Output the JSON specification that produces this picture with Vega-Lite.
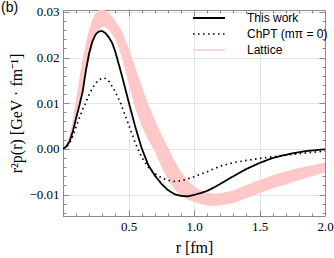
{
  "$schema": "https://vega.github.io/schema/vega-lite/v6.json",
  "autosize": "none",
  "width": 262,
  "height": 206,
  "padding": {"left": 63, "top": 10, "right": 9, "bottom": 42},
  "background": "white",
  "title": {"text": "(b)", "anchor": "start", "frame": "group", "orient": "top", "offset": 0, "dx": -62, "dy": 9, "font": "Liberation Sans", "fontSize": 14, "fontWeight": "normal", "color": "black"},
  "config": {
    "view": {"stroke": null},
    "axis": {"domainColor": "#8a8a8a", "tickColor": "#8a8a8a", "gridColor": "#e4e4e4", "gridWidth": 1, "labelFont": "Liberation Serif", "labelFontSize": 13, "labelColor": "black", "titleFont": "Liberation Serif", "titleFontSize": 16, "titleFontWeight": "normal", "titleColor": "black", "domainWidth": 1, "tickWidth": 1}
  },
  "datasets": {
    "band": [
      {"r": 0, "lo": 0, "hi": 0},
      {"r": 0.025, "lo": 0.0006, "hi": 0.0010},
      {"r": 0.05, "lo": 0.0018, "hi": 0.0030},
      {"r": 0.075, "lo": 0.0040, "hi": 0.0065},
      {"r": 0.1, "lo": 0.0068, "hi": 0.0110},
      {"r": 0.125, "lo": 0.0098, "hi": 0.0155},
      {"r": 0.15, "lo": 0.0130, "hi": 0.0195},
      {"r": 0.175, "lo": 0.0162, "hi": 0.0232},
      {"r": 0.2, "lo": 0.0195, "hi": 0.0262},
      {"r": 0.225, "lo": 0.0225, "hi": 0.0284},
      {"r": 0.25, "lo": 0.0248, "hi": 0.0298},
      {"r": 0.275, "lo": 0.0262, "hi": 0.0304},
      {"r": 0.3, "lo": 0.0267, "hi": 0.0305},
      {"r": 0.325, "lo": 0.0266, "hi": 0.0303},
      {"r": 0.35, "lo": 0.0260, "hi": 0.0298},
      {"r": 0.4, "lo": 0.0240, "hi": 0.0281},
      {"r": 0.45, "lo": 0.0200, "hi": 0.0258},
      {"r": 0.5, "lo": 0.0145, "hi": 0.0222},
      {"r": 0.55, "lo": 0.0090, "hi": 0.0180},
      {"r": 0.6, "lo": 0.0050, "hi": 0.0138},
      {"r": 0.65, "lo": 0.0020, "hi": 0.0098},
      {"r": 0.7, "lo": -0.0005, "hi": 0.0064},
      {"r": 0.75, "lo": -0.0038, "hi": 0.0032},
      {"r": 0.8, "lo": -0.0066, "hi": 0.0004},
      {"r": 0.85, "lo": -0.0088, "hi": -0.0025},
      {"r": 0.9, "lo": -0.0102, "hi": -0.0050},
      {"r": 0.95, "lo": -0.0111, "hi": -0.0068},
      {"r": 1.0, "lo": -0.0116, "hi": -0.0082},
      {"r": 1.05, "lo": -0.0121, "hi": -0.0091},
      {"r": 1.1, "lo": -0.0124, "hi": -0.0096},
      {"r": 1.15, "lo": -0.0125, "hi": -0.0098},
      {"r": 1.2, "lo": -0.0124, "hi": -0.0097},
      {"r": 1.3, "lo": -0.0119, "hi": -0.0091},
      {"r": 1.4, "lo": -0.0108, "hi": -0.0079},
      {"r": 1.5, "lo": -0.0097, "hi": -0.0068},
      {"r": 1.6, "lo": -0.0087, "hi": -0.0058},
      {"r": 1.7, "lo": -0.0078, "hi": -0.0049},
      {"r": 1.8, "lo": -0.0068, "hi": -0.0042},
      {"r": 1.9, "lo": -0.0060, "hi": -0.0036},
      {"r": 2.0, "lo": -0.0052, "hi": -0.0030}
    ],
    "lines": [
      {"r": 0, "series": "This work", "v": 0},
      {"r": 0.025, "series": "This work", "v": 0.0005},
      {"r": 0.05, "series": "This work", "v": 0.0016},
      {"r": 0.075, "series": "This work", "v": 0.0038},
      {"r": 0.1, "series": "This work", "v": 0.0067},
      {"r": 0.125, "series": "This work", "v": 0.0095},
      {"r": 0.15, "series": "This work", "v": 0.0125},
      {"r": 0.175, "series": "This work", "v": 0.0172},
      {"r": 0.2, "series": "This work", "v": 0.0210},
      {"r": 0.225, "series": "This work", "v": 0.0236},
      {"r": 0.25, "series": "This work", "v": 0.0251},
      {"r": 0.275, "series": "This work", "v": 0.0257},
      {"r": 0.3, "series": "This work", "v": 0.0258},
      {"r": 0.325, "series": "This work", "v": 0.0253},
      {"r": 0.35, "series": "This work", "v": 0.0244},
      {"r": 0.375, "series": "This work", "v": 0.0232},
      {"r": 0.4, "series": "This work", "v": 0.0212},
      {"r": 0.45, "series": "This work", "v": 0.0160},
      {"r": 0.5, "series": "This work", "v": 0.0104},
      {"r": 0.55, "series": "This work", "v": 0.0050},
      {"r": 0.6, "series": "This work", "v": 0.0002},
      {"r": 0.65, "series": "This work", "v": -0.0035},
      {"r": 0.7, "series": "This work", "v": -0.0058},
      {"r": 0.75, "series": "This work", "v": -0.0076},
      {"r": 0.8, "series": "This work", "v": -0.0090},
      {"r": 0.85, "series": "This work", "v": -0.0099},
      {"r": 0.9, "series": "This work", "v": -0.0103},
      {"r": 0.95, "series": "This work", "v": -0.0104},
      {"r": 1.0, "series": "This work", "v": -0.0101},
      {"r": 1.05, "series": "This work", "v": -0.0097},
      {"r": 1.1, "series": "This work", "v": -0.0092},
      {"r": 1.15, "series": "This work", "v": -0.0085},
      {"r": 1.2, "series": "This work", "v": -0.0077},
      {"r": 1.275, "series": "This work", "v": -0.0064},
      {"r": 1.35, "series": "This work", "v": -0.0052},
      {"r": 1.4, "series": "This work", "v": -0.0044},
      {"r": 1.5, "series": "This work", "v": -0.0031},
      {"r": 1.6, "series": "This work", "v": -0.0020},
      {"r": 1.73, "series": "This work", "v": -0.0011},
      {"r": 1.85, "series": "This work", "v": -0.0005},
      {"r": 2.0, "series": "This work", "v": -0.0001},
      {"r": 0, "series": "ChPT (mπ = 0)", "v": 0},
      {"r": 0.025, "series": "ChPT (mπ = 0)", "v": 0.0004},
      {"r": 0.05, "series": "ChPT (mπ = 0)", "v": 0.0012},
      {"r": 0.075, "series": "ChPT (mπ = 0)", "v": 0.0028},
      {"r": 0.1, "series": "ChPT (mπ = 0)", "v": 0.0048},
      {"r": 0.125, "series": "ChPT (mπ = 0)", "v": 0.0068},
      {"r": 0.15, "series": "ChPT (mπ = 0)", "v": 0.0086},
      {"r": 0.175, "series": "ChPT (mπ = 0)", "v": 0.0102},
      {"r": 0.2, "series": "ChPT (mπ = 0)", "v": 0.0119},
      {"r": 0.225, "series": "ChPT (mπ = 0)", "v": 0.0133},
      {"r": 0.25, "series": "ChPT (mπ = 0)", "v": 0.0144},
      {"r": 0.275, "series": "ChPT (mπ = 0)", "v": 0.0151},
      {"r": 0.3, "series": "ChPT (mπ = 0)", "v": 0.0155},
      {"r": 0.325, "series": "ChPT (mπ = 0)", "v": 0.0154},
      {"r": 0.35, "series": "ChPT (mπ = 0)", "v": 0.0148},
      {"r": 0.4, "series": "ChPT (mπ = 0)", "v": 0.0125},
      {"r": 0.44, "series": "ChPT (mπ = 0)", "v": 0.0100},
      {"r": 0.5, "series": "ChPT (mπ = 0)", "v": 0.0054},
      {"r": 0.55, "series": "ChPT (mπ = 0)", "v": 0.0014},
      {"r": 0.6, "series": "ChPT (mπ = 0)", "v": -0.0018},
      {"r": 0.65, "series": "ChPT (mπ = 0)", "v": -0.0040},
      {"r": 0.7, "series": "ChPT (mπ = 0)", "v": -0.0054},
      {"r": 0.75, "series": "ChPT (mπ = 0)", "v": -0.0063},
      {"r": 0.8, "series": "ChPT (mπ = 0)", "v": -0.0069},
      {"r": 0.85, "series": "ChPT (mπ = 0)", "v": -0.0071},
      {"r": 0.9, "series": "ChPT (mπ = 0)", "v": -0.0070},
      {"r": 0.95, "series": "ChPT (mπ = 0)", "v": -0.0066},
      {"r": 1.0, "series": "ChPT (mπ = 0)", "v": -0.0061},
      {"r": 1.1, "series": "ChPT (mπ = 0)", "v": -0.0050},
      {"r": 1.2, "series": "ChPT (mπ = 0)", "v": -0.0038},
      {"r": 1.3, "series": "ChPT (mπ = 0)", "v": -0.0030},
      {"r": 1.5, "series": "ChPT (mπ = 0)", "v": -0.0021},
      {"r": 1.75, "series": "ChPT (mπ = 0)", "v": -0.0012},
      {"r": 2.0, "series": "ChPT (mπ = 0)", "v": -0.0005}
    ]
  },
  "resolve": {"axis": {"x": "independent", "y": "independent"}},
  "layer": [
    {
      "data": {"name": "band"},
      "mark": {"type": "area", "color": "#ffc8c8", "clip": true},
      "encoding": {
        "x": {"field": "r", "type": "quantitative", "scale": {"domain": [0, 2], "nice": false, "zero": false},
          "axis": {"orient": "bottom", "title": "r [fm]", "titlePadding": 6,
            "values": [0,0.1,0.2,0.3,0.4,0.5,0.6,0.7,0.8,0.9,1.0,1.1,1.2,1.3,1.4,1.5,1.6,1.7,1.8,1.9,2.0],
            "labelExpr": "(datum.value > 0.01 && abs(datum.value*2 - round(datum.value*2)) < 0.001) ? format(datum.value, '.1f') : ''",
            "labelFlush": false, "labelPadding": 10,
            "tickSize": {"condition": {"test": "abs(datum.value*2 - round(datum.value*2)) < 0.001", "value": -6}, "value": -3},
            "grid": true,
            "gridOpacity": {"condition": {"test": "abs(datum.value*2 - round(datum.value*2)) < 0.001", "value": 1}, "value": 0}
          }},
        "y": {"field": "lo", "type": "quantitative", "scale": {"domain": [-0.0147, 0.0304], "nice": false, "zero": false},
          "axis": {"orient": "left", "title": "r²p(r) [GeV · fm⁻¹]", "titlePadding": 4,
            "values": [-0.014,-0.012,-0.010,-0.008,-0.006,-0.004,-0.002,0,0.002,0.004,0.006,0.008,0.010,0.012,0.014,0.016,0.018,0.020,0.022,0.024,0.026,0.028,0.030],
            "labelExpr": "abs(datum.value*100 - round(datum.value*100)) < 0.01 ? format(datum.value, '.2f') : ''",
            "labelFlush": false, "labelPadding": 10,
            "tickSize": {"condition": {"test": "abs(datum.value*100 - round(datum.value*100)) < 0.01", "value": -6}, "value": -3},
            "grid": true,
            "gridOpacity": {"condition": {"test": "abs(datum.value*100 - round(datum.value*100)) < 0.01", "value": 1}, "value": 0}
          }},
        "y2": {"field": "hi"}
      }
    },
    {
      "data": {"name": "lines"},
      "mark": {"type": "line", "clip": true, "strokeCap": "butt"},
      "encoding": {
        "x": {"field": "r", "type": "quantitative", "scale": {"domain": [0, 2], "nice": false, "zero": false},
          "axis": {"orient": "top", "title": null, "labels": false, "grid": false,
            "values": [0,0.1,0.2,0.3,0.4,0.5,0.6,0.7,0.8,0.9,1.0,1.1,1.2,1.3,1.4,1.5,1.6,1.7,1.8,1.9,2.0],
            "tickSize": {"condition": {"test": "abs(datum.value*2 - round(datum.value*2)) < 0.001", "value": -6}, "value": -3}
          }},
        "y": {"field": "v", "type": "quantitative", "scale": {"domain": [-0.0147, 0.0304], "nice": false, "zero": false},
          "axis": {"orient": "right", "title": null, "labels": false, "grid": false,
            "values": [-0.014,-0.012,-0.010,-0.008,-0.006,-0.004,-0.002,0,0.002,0.004,0.006,0.008,0.010,0.012,0.014,0.016,0.018,0.020,0.022,0.024,0.026,0.028,0.030],
            "tickSize": {"condition": {"test": "abs(datum.value*100 - round(datum.value*100)) < 0.01", "value": -6}, "value": -3}
          }},
        "detail": {"field": "series"},
        "color": {"field": "series", "type": "nominal",
          "scale": {"domain": ["This work", "ChPT (mπ = 0)", "Lattice"], "range": ["black", "black", "#ffc8c8"]},
          "legend": {"title": null, "orient": "none", "legendX": 140, "legendY": 2, "symbolType": "M-4,0H4", "symbolSize": 64, "labelOffset": 32, "labelFont": "Liberation Sans", "labelFontSize": 12, "labelColor": "black", "rowPadding": 4, "padding": 0}},
        "strokeDash": {"field": "series", "type": "nominal",
          "scale": {"domain": ["This work", "ChPT (mπ = 0)", "Lattice"], "range": [[1, 0], [1.5, 3.5], [1, 0]]},
          "legend": {"title": null, "orient": "none", "legendX": 140, "legendY": 2, "symbolType": "M-4,0H4", "symbolSize": 64, "labelOffset": 32, "labelFont": "Liberation Sans", "labelFontSize": 12, "labelColor": "black", "rowPadding": 4, "padding": 0}},
        "strokeWidth": {"field": "series", "type": "nominal",
          "scale": {"domain": ["This work", "ChPT (mπ = 0)", "Lattice"], "range": [1.8, 1.6, 6]},
          "legend": {"title": null, "orient": "none", "legendX": 140, "legendY": 2, "symbolType": "M-4,0H4", "symbolSize": 64, "labelOffset": 32, "labelFont": "Liberation Sans", "labelFontSize": 12, "labelColor": "black", "rowPadding": 4, "padding": 0}}
      }
    }
  ]
}
